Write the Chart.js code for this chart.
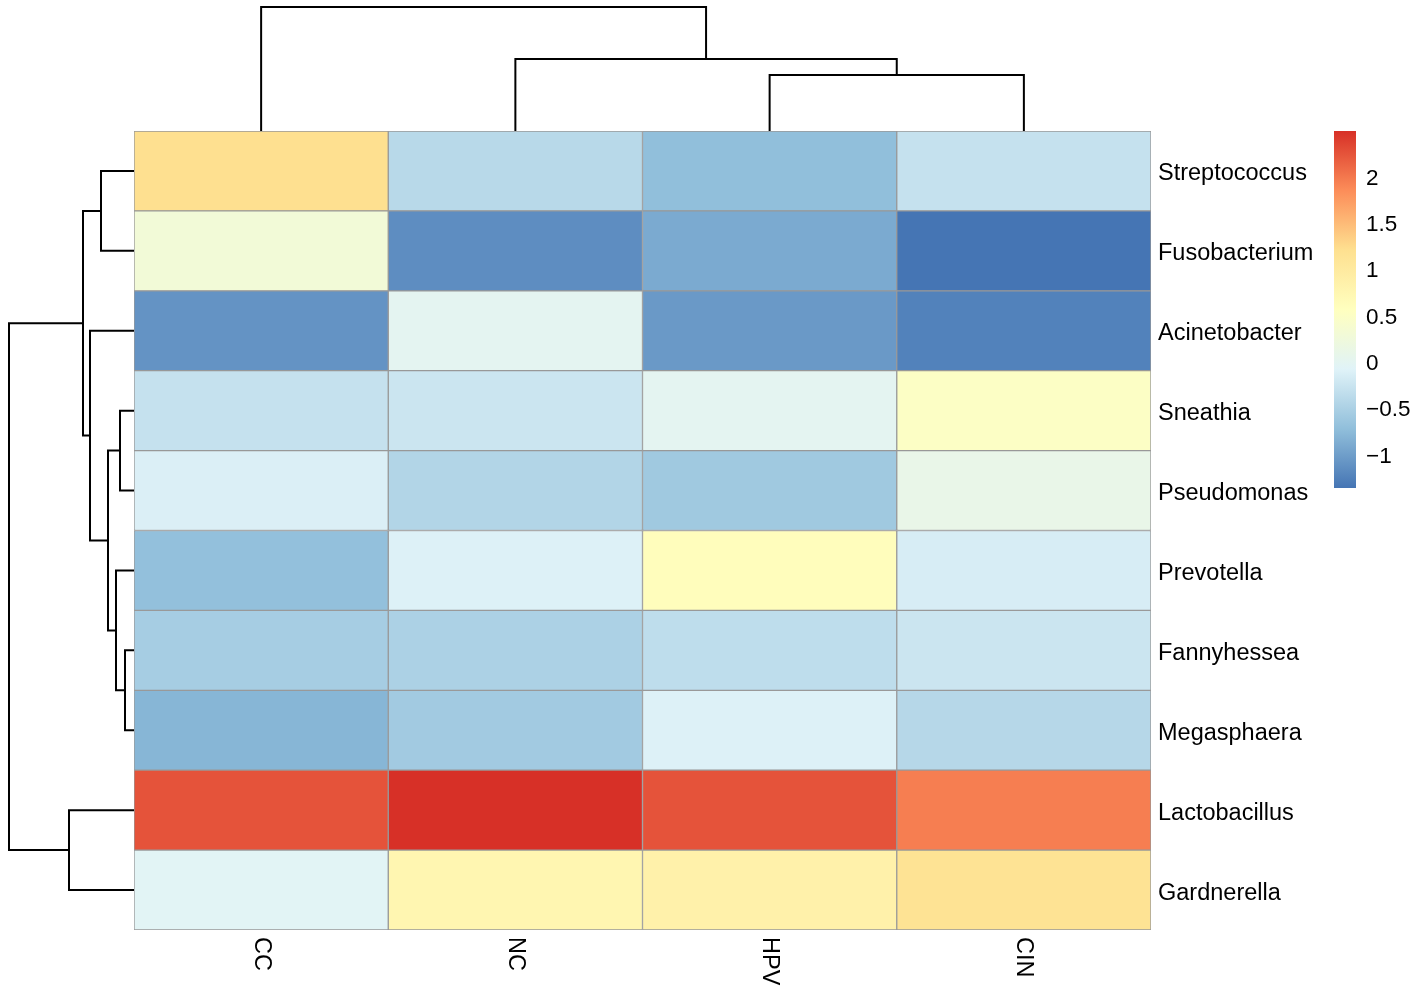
<!DOCTYPE html>
<html>
<head>
<meta charset="utf-8">
<script src="https://cdn.jsdelivr.net/npm/chart.js@4.4.0/dist/chart.umd.min.js"></script>
<style>
  body { margin: 0; background: #fff; }
  #wrap { position: relative; width: 1416px; height: 989px; }
  #wrap canvas { position: absolute; left: 0; top: 0; }
</style>
</head>
<body>
<div id="wrap">
  <canvas id="heat" width="1416" height="989"></canvas>
  <canvas id="dendTop" width="1416" height="989"></canvas>
  <canvas id="dendLeft" width="1416" height="989"></canvas>
  <canvas id="legend" width="1416" height="989"></canvas>
</div>
<script>
const genera = ['Streptococcus', 'Fusobacterium', 'Acinetobacter', 'Sneathia', 'Pseudomonas',
  'Prevotella', 'Fannyhessea', 'Megasphaera', 'Lactobacillus', 'Gardnerella'];
const groups = ['CC', 'NC', 'HPV', 'CIN'];
// scaled abundance per group, same order as genera
const valCC  = [1.2, 0.3, -1.1, -0.3, -0.12, -0.7, -0.55, -0.8, 2.25, -0.04];
const valNC  = [-0.4, -1.15, 0.0, -0.25, -0.45, -0.1, -0.5, -0.58, 2.49, 0.75];
const valHPV = [-0.72, -0.9, -1.05, 0.0, -0.6, 0.6, -0.35, -0.1, 2.25, 0.85];
const valCIN = [-0.3, -1.36, -1.25, 0.5, 0.1, -0.15, -0.25, -0.42, 1.95, 1.15];
const colorTicks = [-1, -0.5, 0, 0.5, 1, 1.5, 2];
const palette = ['#4575B4', '#91BFDB', '#E0F3F8', '#FFFFBF', '#FEE090', '#FC8D59', '#D73027'];
// dendrograms, hclust style: negative = leaf (1-based), positive = earlier merge
const colMerge = [[-3, -4], [-2, 1], [-1, 2]];
const colHeight = [5.6, 7.2, 12.4];
const rowMerge = [[-7, -8], [-4, -5], [-6, 1], [2, 3], [-1, -2], [-3, 4], [5, 6], [-9, -10], [7, 8]];
const rowHeight = [0.9, 1.4, 1.8, 2.6, 3.3, 4.4, 5.1, 6.5, 12.5];

Chart.defaults.font.family = '"Liberation Sans", Arial, sans-serif';
Chart.defaults.color = '#000';

const W = 1416, H = 989;
const values = [valCC, valNC, valHPV, valCIN];
const all = values.flat();
const vmin = Math.min(...all), vmax = Math.max(...all);

function hexRgb(h) {
  return [parseInt(h.slice(1, 3), 16), parseInt(h.slice(3, 5), 16), parseInt(h.slice(5, 7), 16)];
}
function colorFor(v) {
  let t = (v - vmin) / (vmax - vmin) * (palette.length - 1);
  let i = Math.min(Math.floor(t), palette.length - 2);
  let f = t - i;
  let a = hexRgb(palette[i]), b = hexRgb(palette[i + 1]);
  let c = a.map((x, k) => Math.round(x + (b[k] - x) * f));
  return 'rgb(' + c.join(',') + ')';
}

// turn merge table into U-shaped links, leaves sit at index + 0.5
function links(merge, height) {
  let pos = [], hgt = [], out = [];
  function get(n) {
    if (n < 0) return [-n - 1 + 0.5, 0];
    return [pos[n - 1], hgt[n - 1]];
  }
  merge.forEach((m, k) => {
    let [pa, ha] = get(m[0]);
    let [pb, hb] = get(m[1]);
    let h = height[k];
    pos.push((pa + pb) / 2);
    hgt.push(h);
    out.push([[pa, ha], [pa, h], [pb, h], [pb, hb]]);
  });
  return out;
}

const lineStyle = { borderColor: '#000', borderWidth: 2, pointRadius: 0, showLine: true, clip: false, fill: false };

// heatmap
const colLabels = {
  id: 'colLabels',
  afterDraw(chart) {
    const ctx = chart.ctx, xs = chart.scales.x;
    ctx.save();
    ctx.font = '23.5px "Liberation Sans", Arial, sans-serif';
    ctx.fillStyle = '#000';
    ctx.textAlign = 'left';
    ctx.textBaseline = 'middle';
    groups.forEach((g, i) => {
      ctx.save();
      ctx.translate(xs.getPixelForValue(i + 0.5), chart.chartArea.bottom + 7);
      ctx.rotate(Math.PI / 2);
      ctx.fillText(g, 0, 0);
      ctx.restore();
    });
    ctx.restore();
  }
};

new Chart(document.getElementById('heat'), {
  type: 'bar',
  data: {
    labels: genera,
    datasets: groups.map((g, i) => ({
      label: g,
      data: genera.map(() => 1),
      backgroundColor: values[i].map(colorFor),
      borderColor: '#999',
      borderWidth: 1,
      borderSkipped: false,
      barPercentage: 1,
      categoryPercentage: 1
    }))
  },
  options: {
    indexAxis: 'y',
    responsive: false,
    animation: false,
    devicePixelRatio: 1,
    layout: { padding: { left: 134, top: 131, bottom: 59, right: 95 } },
    plugins: { legend: { display: false }, tooltip: { enabled: false } },
    scales: {
      x: { stacked: true, min: 0, max: 4, display: false },
      y: {
        stacked: true,
        position: 'right',
        offset: true,
        grid: { display: false, drawTicks: false },
        border: { display: false },
        ticks: { font: { size: 23.5 }, padding: 7, color: '#000', labelOffset: 3 },
        afterFit(s) { s.width = 170; }
      }
    }
  },
  plugins: [colLabels]
});

// top dendrogram
new Chart(document.getElementById('dendTop'), {
  type: 'scatter',
  data: {
    datasets: links(colMerge, colHeight).map(l => Object.assign({
      data: l.map(p => ({ x: p[0], y: p[1] }))
    }, lineStyle))
  },
  options: {
    responsive: false,
    animation: false,
    devicePixelRatio: 1,
    layout: { padding: { left: 134, right: W - 1151, top: 7, bottom: H - 131 } },
    plugins: { legend: { display: false }, tooltip: { enabled: false } },
    scales: {
      x: { type: 'linear', min: 0, max: groups.length, display: false },
      y: { type: 'linear', min: 0, max: Math.max(...colHeight), display: false }
    }
  }
});

// left dendrogram
new Chart(document.getElementById('dendLeft'), {
  type: 'scatter',
  data: {
    datasets: links(rowMerge, rowHeight).map(l => Object.assign({
      data: l.map(p => ({ x: p[1], y: p[0] }))
    }, lineStyle))
  },
  options: {
    responsive: false,
    animation: false,
    devicePixelRatio: 1,
    layout: { padding: { left: 9, right: W - 134, top: 131, bottom: H - 930 } },
    plugins: { legend: { display: false }, tooltip: { enabled: false } },
    scales: {
      x: { type: 'linear', min: 0, max: Math.max(...rowHeight), reverse: true, display: false },
      y: { type: 'linear', min: 0, max: genera.length, reverse: true, display: false }
    }
  }
});

// colour key
new Chart(document.getElementById('legend'), {
  type: 'bar',
  data: {
    labels: ['key'],
    datasets: [{
      data: [[vmin, vmax]],
      barPercentage: 1,
      categoryPercentage: 1,
      borderWidth: 0,
      backgroundColor(c) {
        const chart = c.chart;
        if (!chart.chartArea) return palette[3];
        const y = chart.scales.y;
        const g = chart.ctx.createLinearGradient(0, y.getPixelForValue(vmin), 0, y.getPixelForValue(vmax));
        palette.forEach((col, i) => g.addColorStop(i / (palette.length - 1), col));
        return g;
      }
    }]
  },
  options: {
    responsive: false,
    animation: false,
    devicePixelRatio: 1,
    layout: { padding: { left: 1334, right: 0, top: 131, bottom: H - 488 } },
    plugins: { legend: { display: false }, tooltip: { enabled: false } },
    scales: {
      x: { display: false },
      y: {
        type: 'linear',
        position: 'right',
        min: vmin,
        max: vmax,
        grid: { display: false, drawTicks: false },
        border: { display: false },
        afterBuildTicks(s) { s.ticks = colorTicks.map(v => ({ value: v })); },
        afterFit(s) { s.width = 1416 - 1356; },
        ticks: {
          font: { size: 22.5 },
          padding: 10,
          color: '#000',
          labelOffset: 2,
          callback: v => String(v).replace('-', '\u2212')
        }
      }
    }
  }
});
</script>
</body>
</html>
